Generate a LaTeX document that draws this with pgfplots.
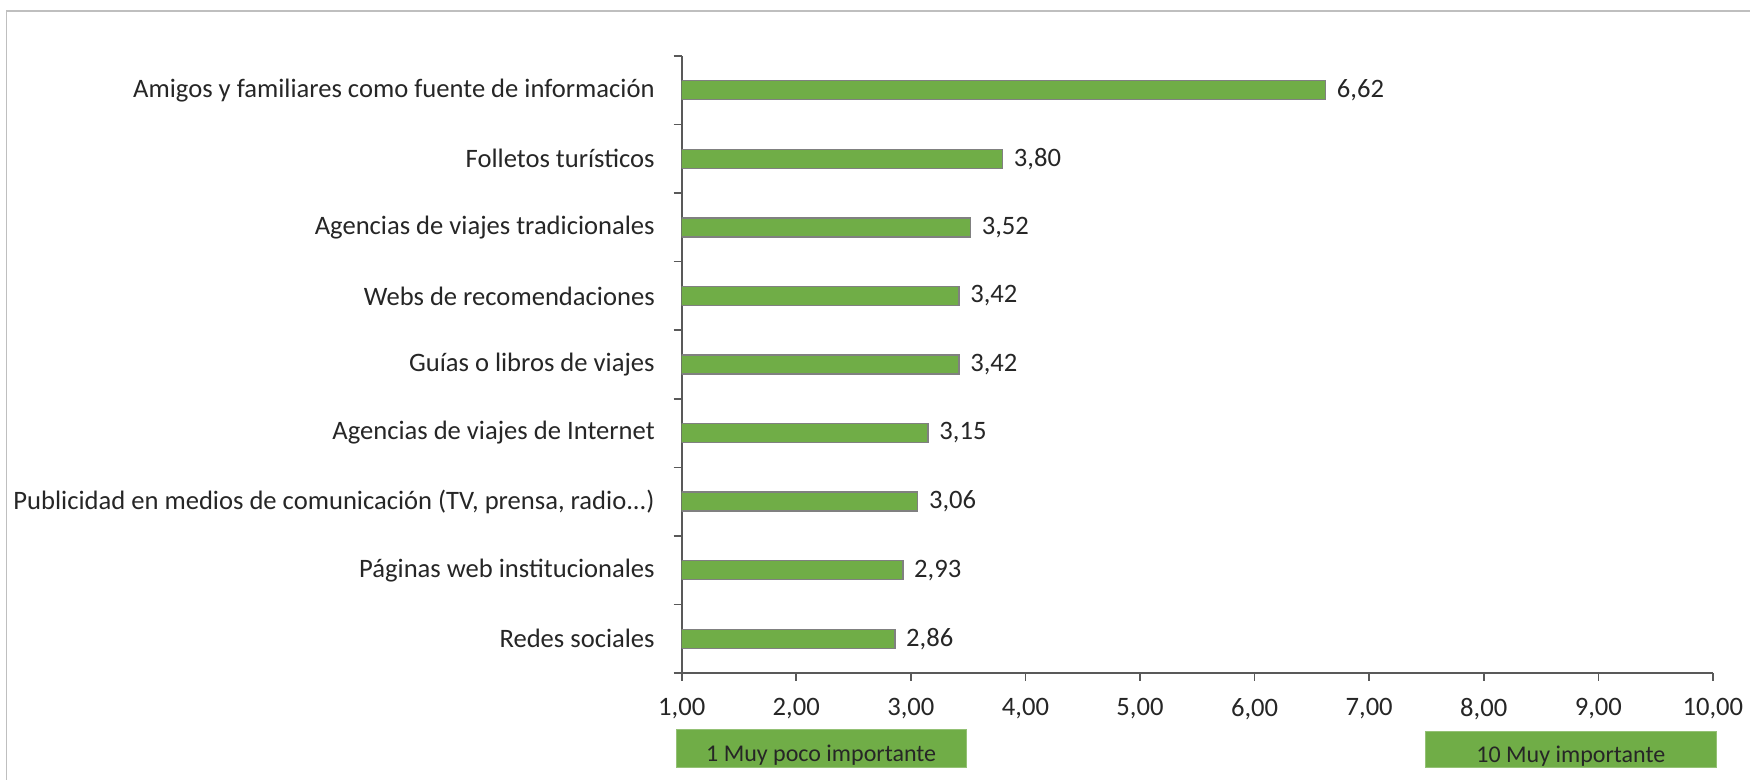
\documentclass[border=0pt]{standalone}
\usepackage{pgfplots}
\pgfplotsset{compat=1.18}
\usepackage{fontspec}
\setmainfont{Carlito}
\definecolor{barg}{HTML}{70AD47}
\definecolor{axg}{HTML}{595959}
\begin{document}
\begin{tikzpicture}[x=1pt,y=1pt]
\useasboundingbox (0pt,0pt) rectangle (875pt,390pt);
\draw[black!25, line width=0.7pt] (3.3pt,-2pt) -- (3.3pt,384.5pt) -- (880pt,384.5pt);
\begin{axis}[
  at={(340.85pt,53.5pt)}, anchor=south west,
  scale only axis, width=515.6pt, height=308.5pt,
  xmin=1, xmax=10, ymin=0.5, ymax=9.5,
  axis lines*=left,
  axis line style={axg, line width=0.8pt},
  every tick/.style={axg, line width=0.8pt},
  tick align=outside,
  major tick length=4pt,
  clip mode=individual,
  xtick={1,...,10},
  xticklabel style={font=\fontsize{13.3}{15}\selectfont, text=black!85, yshift=-5pt,
    /pgf/number format/.cd, fixed, fixed zerofill, precision=2, use comma, assume math mode=true},
  ytick={0.5,1.5,2.5,3.5,4.5,5.5,6.5,7.5,8.5,9.5}, yticklabels={},
  extra y ticks={1,2,3,4,5,6,7,8,9},
  extra y tick style={tick style={draw=none}},
  extra y tick labels={Redes sociales, Páginas web institucionales, {Publicidad en medios de comunicación (TV, prensa, radio{.}{.}{.})}, Agencias de viajes de Internet, Guías o libros de viajes, Webs de recomendaciones, Agencias de viajes tradicionales, Folletos turísticos, Amigos y familiares como fuente de información},
  yticklabel style={font=\fontsize{13.3}{15}\selectfont, text=black!85, xshift=-6pt},
  xbar, bar width=9.5pt,
  nodes near coords={\pgfmathprintnumber[fixed,fixed zerofill,precision=2,use comma,assume math mode=true]{\pgfplotspointmeta}},
  every node near coord/.append style={font=\fontsize{13.3}{15}\selectfont, text=black!85, anchor=west, xshift=2pt},
]
\addplot[fill=barg, draw=black!50, line width=0.7pt] coordinates {
  (2.86,1) (2.93,2) (3.06,3) (3.15,4) (3.42,5) (3.42,6) (3.52,7) (3.80,8) (6.62,9)
};
\end{axis}
\fill[barg, draw=barg!75!white, line width=0.5pt] (338pt,6pt) rectangle (483.3pt,25pt);
\node[anchor=base, inner sep=0pt, font=\fontsize{12}{14}\selectfont, text=black!85] at (410.6pt,9pt) {1 Muy poco importante};
\fill[barg, draw=barg!75!white, line width=0.5pt] (712.8pt,6pt) rectangle (858pt,24.2pt);
\node[anchor=base, inner sep=0pt, font=\fontsize{12}{14}\selectfont, text=black!85] at (785.4pt,8.7pt) {10 Muy importante};
\end{tikzpicture}
\end{document}
